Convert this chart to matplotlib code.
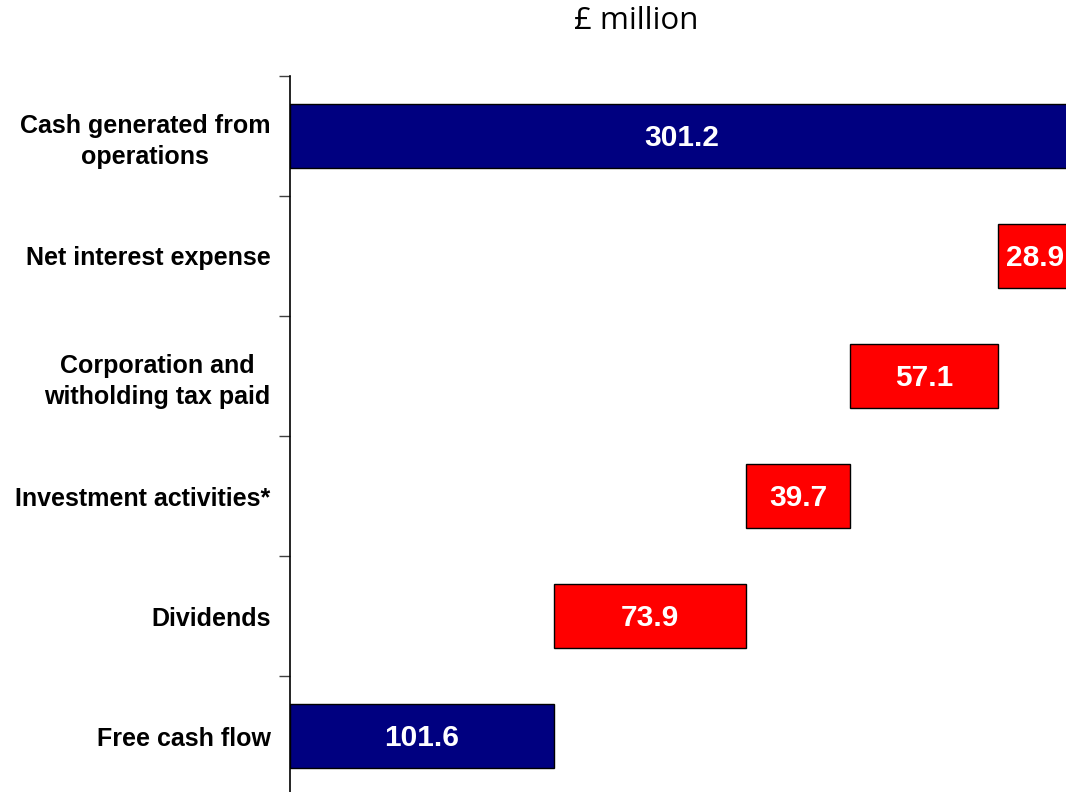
import numpy as np
import matplotlib.pyplot as plt

categories = ["Cash generated from\noperations", "Net interest expense",
              "Corporation and\nwitholding tax paid", "Investment activities*",
              "Dividends", "Free cash flow"]
values = [301.2, 28.9, 57.1, 39.7, 73.9, 101.6]
kinds = ["total", "out", "out", "out", "out", "total"]

NAVY = "#000080"
RED = "#ff0000"

# waterfall: outflows step down from the running total
lefts = []
running = 0.0
for v, k in zip(values, kinds):
    if k == "total":
        lefts.append(0.0)
        running = v
    else:
        running -= v
        lefts.append(running)

fig = plt.figure(figsize=(10.66, 7.92), dpi=100)
ax = fig.add_axes([290 / 1066, -4 / 792, 780 / 1066, 720 / 792])

y = np.arange(len(categories))
colors = [NAVY if k == "total" else RED for k in kinds]
ax.barh(y, values, left=lefts, height=0.533, color=colors,
        edgecolor="black", linewidth=1.0)

for yi, v, l in zip(y, values, lefts):
    ax.text(l + v / 2, yi + 0.02, f"{v:.1f}", ha="center", va="center",
            color="white", fontsize=21.5, fontweight="bold",
            family="Liberation Sans")

ax.set_xlim(0, 300)
ax.set_ylim(len(categories) - 0.5, -0.5)
ax.set_yticks(y)
ax.set_yticklabels(categories, fontsize=18, fontweight="bold",
                   family="Liberation Sans", linespacing=1.32)
for lab in ax.get_yticklabels():
    lab.set_multialignment("center")
ax.set_yticks(np.arange(len(categories) + 1) - 0.5, minor=True)
ax.tick_params(axis="y", which="major", length=0, pad=14)
ax.tick_params(axis="y", which="minor", length=8, width=1, color="#404040")
ax.set_xticks([])
for s in ["top", "right", "bottom"]:
    ax.spines[s].set_visible(False)
ax.spines["left"].set_linewidth(1.2)

fig.text(636 / 1066, 1 - 21 / 792, "£ million", ha="center", va="center",
         fontsize=22.5, family="Open Sans")

fig.savefig("out.png", dpi=100)
